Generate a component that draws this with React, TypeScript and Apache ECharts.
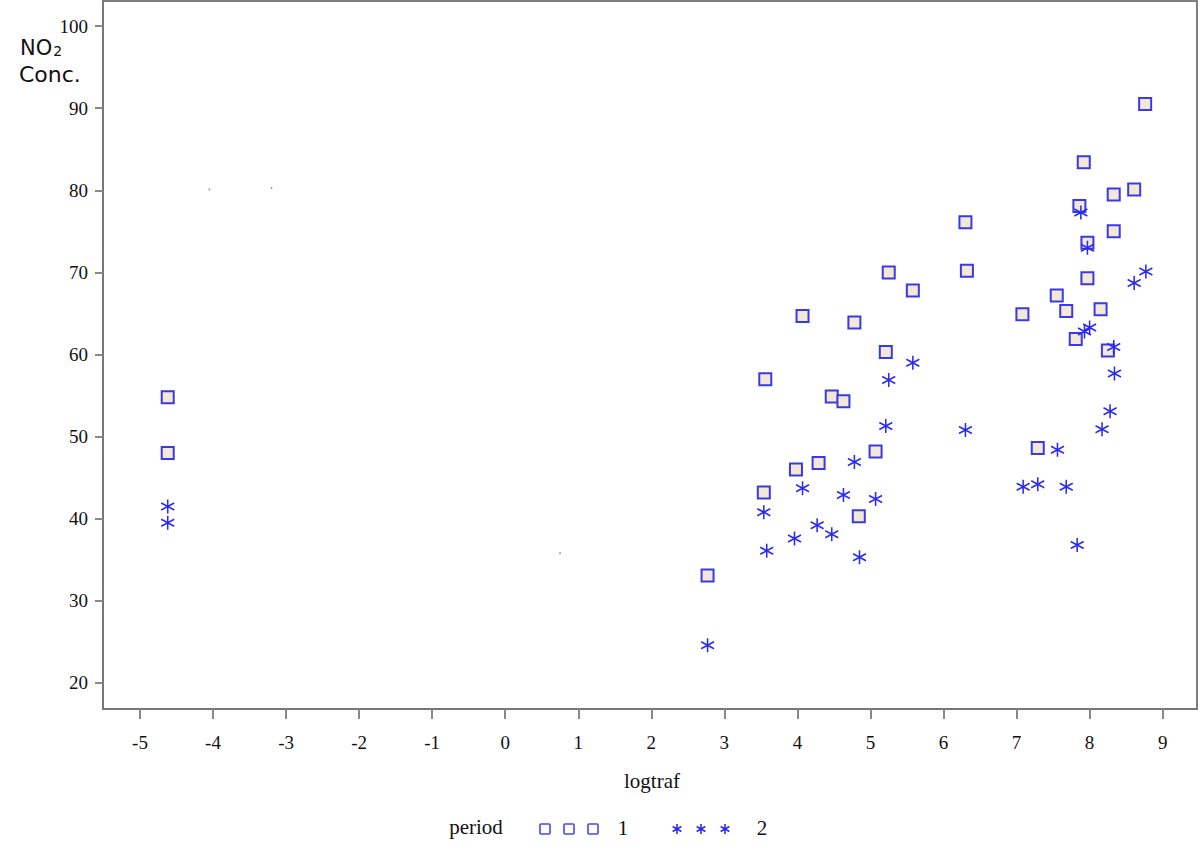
import React, { useEffect, useRef } from "react";
import * as echarts from "echarts";

const xTicks = [-5, -4, -3, -2, -1, 0, 1, 2, 3, 4, 5, 6, 7, 8, 9];
const yTicks = [20, 30, 40, 50, 60, 70, 80, 90, 100];

const period1: [number, number][] = [
  [-4.62, 54.8], [-4.62, 48.0], [2.77, 33.1], [3.56, 57.0], [3.54, 43.2],
  [4.07, 64.7], [3.98, 46.0], [4.29, 46.8], [4.47, 54.9], [4.63, 54.3],
  [4.78, 63.9], [4.84, 40.3], [5.07, 48.2], [5.21, 60.3], [5.25, 70.0],
  [5.58, 67.8], [6.30, 76.1], [6.32, 70.2], [7.08, 64.9], [7.29, 48.6],
  [7.55, 67.2], [7.68, 65.3], [7.81, 61.9], [7.86, 78.1], [7.92, 83.4],
  [7.97, 73.6], [7.97, 69.3], [8.15, 65.5], [8.25, 60.5], [8.33, 79.5],
  [8.33, 75.0], [8.61, 80.1], [8.76, 90.5],
];

const period2: [number, number][] = [
  [-4.62, 41.5], [-4.62, 39.5], [2.77, 24.6], [3.54, 40.8], [3.58, 36.1],
  [3.96, 37.6], [4.07, 43.7], [4.27, 39.2], [4.47, 38.1], [4.63, 42.9],
  [4.78, 46.9], [4.85, 35.3], [5.07, 42.4], [5.21, 51.3], [5.25, 56.9],
  [5.58, 59.0], [6.30, 50.8], [7.09, 43.9], [7.29, 44.2], [7.56, 48.4],
  [7.68, 43.9], [7.83, 36.8], [7.88, 77.3], [7.97, 73.0], [7.93, 62.8],
  [8.0, 63.3], [8.17, 50.9], [8.28, 53.1], [8.33, 60.9], [8.34, 57.7],
  [8.61, 68.7], [8.77, 70.1],
];

const strayDots: [number, number][] = [[-4.05, 80.1], [-3.2, 80.3], [0.75, 35.8]];

const ASTER = "path://M10,0L10,20M1.34,5L18.66,15M1.34,15L18.66,5";
const blue = "#2a2af0";
const sqBlue = "#3a3ae4";

function asterisk(cx: number, cy: number, r: number) {
  const dx = r * Math.cos(Math.PI / 6);
  const dy = r * Math.sin(Math.PI / 6);
  const st = { stroke: blue, lineWidth: 1.6 };
  return {
    type: "group",
    children: [
      { type: "line", shape: { x1: cx, y1: cy - r, x2: cx, y2: cy + r }, style: st },
      { type: "line", shape: { x1: cx - dx, y1: cy - dy, x2: cx + dx, y2: cy + dy }, style: st },
      { type: "line", shape: { x1: cx - dx, y1: cy + dy, x2: cx + dx, y2: cy - dy }, style: st },
    ],
  };
}

function square(cx: number, cy: number) {
  return {
    type: "rect",
    shape: { x: cx - 5, y: cy - 5, width: 10, height: 10, r: 1 },
    style: { fill: "#ffffff", stroke: "#4848ee", lineWidth: 1.6 },
  };
}

export default function App() {
  const ref = useRef<HTMLDivElement>(null);
  useEffect(() => {
    if (!ref.current) return;
    const chart = echarts.init(ref.current, undefined, { renderer: "svg" });
    const serif = "Liberation Serif";
    chart.setOption({
      animation: false,
      backgroundColor: "#ffffff",
      grid: {
        left: 103,
        right: 3,
        top: 1,
        bottom: 147,
        show: true,
        borderColor: "#555555",
        borderWidth: 1.5,
        backgroundColor: "transparent",
      },
      xAxis: {
        type: "value",
        min: -5.506,
        max: 9.47,
        axisLine: { show: true, onZero: false, lineStyle: { color: "#777777", width: 2 } },
        axisTick: { show: true, customValues: xTicks, length: 10, lineStyle: { color: "#888888", width: 2 } },
        axisLabel: { customValues: xTicks, fontFamily: serif, fontSize: 19, color: "#111111", margin: 24 },
        splitLine: { show: false },
      },
      yAxis: {
        type: "value",
        min: 16.83,
        max: 103.05,
        axisLine: { show: true, onZero: false, lineStyle: { color: "#777777", width: 2 } },
        axisTick: { show: true, customValues: yTicks, length: 8, lineStyle: { color: "#888888", width: 2 } },
        axisLabel: { customValues: yTicks, fontFamily: serif, fontSize: 19, color: "#111111", margin: 15 },
        splitLine: { show: false },
      },
      series: [
        {
          name: "1",
          type: "scatter",
          data: period1,
          symbol: "rect",
          symbolSize: 12,
          itemStyle: { color: "#f3e7d8", borderColor: sqBlue, borderWidth: 2, opacity: 1 },
          z: 2,
        },
        {
          name: "2",
          type: "scatter",
          data: period2,
          symbol: ASTER,
          symbolSize: [13, 14],
          itemStyle: { color: "none", borderColor: blue, borderWidth: 1.6, opacity: 1 },
          z: 3,
        },
        {
          name: "stray",
          type: "scatter",
          data: strayDots,
          symbol: "circle",
          symbolSize: 2,
          silent: true,
          itemStyle: { color: "#888888" },
        },
      ],
      graphic: [
        {
          type: "text",
          left: 20,
          top: 37,
          style: {
            text: "{a|NO}{b|2}",
            rich: {
              a: { fontFamily: "DejaVu Sans", fontSize: 21, fill: "#111111" },
              b: { fontFamily: "DejaVu Sans", fontSize: 14, fill: "#111111", padding: [7, 0, 0, 1] },
            },
          },
        },
        {
          type: "text",
          left: 19,
          top: 63,
          style: { text: "Conc.", fontFamily: "DejaVu Sans", fontSize: 22, fill: "#111111" },
        },
        {
          type: "text",
          x: 652,
          y: 781,
          style: { text: "logtraf", fontFamily: serif, fontSize: 21, fill: "#111111", align: "center", verticalAlign: "middle" },
        },
        {
          type: "text",
          x: 476,
          y: 827,
          style: { text: "period", fontFamily: serif, fontSize: 21, fill: "#111111", align: "center", verticalAlign: "middle" },
        },
        square(545, 829),
        square(569, 829),
        square(593, 829),
        {
          type: "text",
          x: 623,
          y: 828,
          style: { text: "1", fontFamily: serif, fontSize: 21, fill: "#111111", align: "center", verticalAlign: "middle" },
        },
        asterisk(677, 829, 5),
        asterisk(701, 829, 5),
        asterisk(725, 829, 5),
        {
          type: "text",
          x: 762,
          y: 828,
          style: { text: "2", fontFamily: serif, fontSize: 21, fill: "#111111", align: "center", verticalAlign: "middle" },
        },
      ],
    });
    return () => chart.dispose();
  }, []);
  return (
    <div
      ref={ref}
      style={{ position: "fixed", left: 0, top: 0, width: 1200, height: 856, background: "#fff" }}
    />
  );
}
